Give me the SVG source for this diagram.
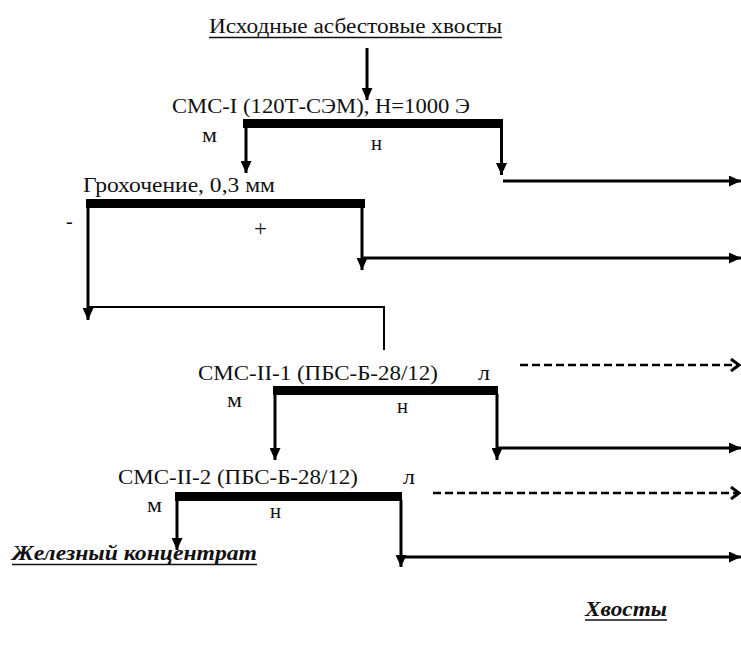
<svg xmlns="http://www.w3.org/2000/svg" width="741" height="663" viewBox="0 0 741 663">
<style>
text{font-family:'Liberation Serif','DejaVu Serif','Noto Serif',Tinos,serif;fill:#111}
.t{font-size:20px}
.s{font-size:20px}
.o{font-size:20px;font-weight:bold;font-style:italic}
.bar{fill:#000}
.c{stroke:#000;stroke-width:3;fill:none}
.thin{stroke:#000;stroke-width:2;fill:none}
.d{stroke:#000;stroke-width:2.5;fill:none;stroke-dasharray:8 4}
.u{stroke:#111;stroke-width:1.5}
</style>
<defs>
<marker id="ah" markerUnits="userSpaceOnUse" markerWidth="12" markerHeight="11" refX="12" refY="5.5" orient="auto">
<path d="M0,0 L12,5.5 L0,11 z" fill="#000"/>
</marker>
<marker id="ch" markerUnits="userSpaceOnUse" markerWidth="12" markerHeight="14" refX="10" refY="7" orient="auto">
<path d="M2,1 L10,7 L2,13" fill="none" stroke="#000" stroke-width="3"/>
</marker>
</defs>
<rect width="741" height="663" fill="#fff"/>

<g id="source">
<text class="t" x="209" y="33" textLength="293" lengthAdjust="spacingAndGlyphs">Исходные асбестовые хвосты</text>
<line class="u" x1="209" y1="37.5" x2="502" y2="37.5"/>
</g>

<g id="sms1">
<text class="t" x="172" y="113" textLength="298" lengthAdjust="spacingAndGlyphs">СМС-I (120Т-СЭМ), Н=1000 Э</text>
<rect class="bar" x="243" y="119" width="260" height="9"/>
<text class="s" x="202" y="142" textLength="15" lengthAdjust="spacingAndGlyphs">м</text>
<text class="s" x="371" y="150" textLength="11" lengthAdjust="spacingAndGlyphs">н</text>
</g>

<g id="screen">
<text class="t" x="83" y="192" textLength="192" lengthAdjust="spacingAndGlyphs">Грохочение, 0,3 мм</text>
<rect class="bar" x="86" y="199" width="279" height="9"/>
<text class="s" x="66" y="228">-</text>
<text x="254" y="236" style="font-size:23px">+</text>
</g>

<g id="sms2-1">
<text class="t" x="198" y="380" textLength="240" lengthAdjust="spacingAndGlyphs">СМС-II-1 (ПБС-Б-28/12)</text>
<text class="s" x="478" y="380" textLength="12" lengthAdjust="spacingAndGlyphs">л</text>
<rect class="bar" x="273" y="386" width="225" height="9"/>
<text class="s" x="227" y="407" textLength="15" lengthAdjust="spacingAndGlyphs">м</text>
<text class="s" x="397" y="413" textLength="11" lengthAdjust="spacingAndGlyphs">н</text>
</g>

<g id="sms2-2">
<text class="t" x="118" y="484" textLength="240" lengthAdjust="spacingAndGlyphs">СМС-II-2 (ПБС-Б-28/12)</text>
<text class="s" x="403" y="484" textLength="12" lengthAdjust="spacingAndGlyphs">л</text>
<rect class="bar" x="175" y="492" width="227" height="9"/>
<text class="s" x="147" y="512" textLength="15" lengthAdjust="spacingAndGlyphs">м</text>
<text class="s" x="270" y="518" textLength="11" lengthAdjust="spacingAndGlyphs">н</text>
</g>

<g id="concentrate">
<text class="o" x="12" y="560" textLength="245" lengthAdjust="spacingAndGlyphs">Железный концентрат</text>
<line class="u" x1="12" y1="564.5" x2="257" y2="564.5"/>
</g>

<g id="tails">
<text class="o" x="585" y="616" textLength="82" lengthAdjust="spacingAndGlyphs">Хвосты</text>
<line class="u" x1="585" y1="620" x2="667" y2="620"/>
</g>

<g id="connectors">
<line class="c" x1="367" y1="48" x2="367" y2="100" marker-end="url(#ah)"/>
<line class="c" x1="246" y1="127" x2="246" y2="173" marker-end="url(#ah)"/>
<line class="c" x1="501.5" y1="127" x2="501.5" y2="175" marker-end="url(#ah)"/>
<line class="c" x1="503" y1="181" x2="741" y2="181" marker-end="url(#ah)"/>
<line class="c" x1="362" y1="207" x2="362" y2="270" marker-end="url(#ah)"/>
<line class="c" x1="363" y1="258" x2="741" y2="258" marker-end="url(#ah)"/>
<line class="c" x1="88" y1="207" x2="88" y2="320" marker-end="url(#ah)"/>
<polyline class="thin" points="89,307 384,307 384,350"/>
<line class="c" x1="275" y1="394" x2="275" y2="460" marker-end="url(#ah)"/>
<line class="c" x1="497" y1="394" x2="497" y2="460" marker-end="url(#ah)"/>
<line class="c" x1="498" y1="448" x2="741" y2="448" marker-end="url(#ah)"/>
<line class="d" x1="520" y1="365" x2="739" y2="365" marker-end="url(#ch)"/>
<line class="c" x1="177" y1="500" x2="177" y2="550" marker-end="url(#ah)"/>
<line class="c" x1="401" y1="500" x2="401" y2="567" marker-end="url(#ah)"/>
<line class="c" x1="402" y1="557" x2="741" y2="557" marker-end="url(#ah)"/>
<line class="d" x1="433" y1="493" x2="739" y2="493" marker-end="url(#ch)"/>
</g>
</svg>
